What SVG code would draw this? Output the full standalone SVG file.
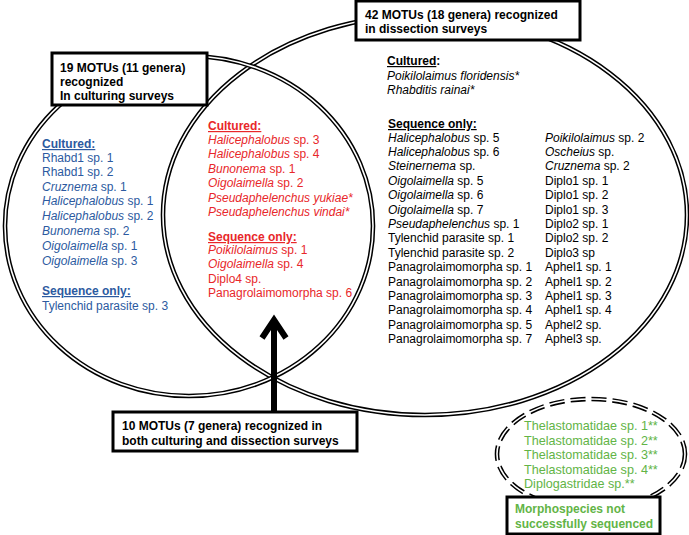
<svg xmlns="http://www.w3.org/2000/svg" width="689" height="535" viewBox="0 0 689 535">
<style>
text{font-family:"Liberation Sans",Arial,sans-serif;font-size:12px}
.b{font-weight:bold}
.i{font-style:italic}
.u{text-decoration:underline}
.bl{fill:#2c5aa0}
.rd{fill:#e8272a}
.gr{fill:#62b446}
.g13{font-size:12.6px}
.k{fill:#000}
.outer{fill:none;stroke:#000;stroke-width:4.6}
.inner{fill:none;stroke:#fff;stroke-width:1.6}
.douter{fill:none;stroke:#000;stroke-width:4.6;stroke-dasharray:15 6}
.box{fill:#fff;stroke:#000;stroke-width:3}
.arrow{fill:none;stroke:#000;stroke-width:6}
</style>
<rect width="689" height="535" fill="#fff"/>

<g id="ellipse-dissection">
<ellipse class="outer" cx="425" cy="215" rx="262" ry="200"/>
<ellipse class="inner" cx="425" cy="215" rx="262" ry="200"/>
</g>
<g id="ellipse-culturing">
<ellipse class="outer" cx="189" cy="226" rx="184" ry="170"/>
<ellipse class="inner" cx="189" cy="226" rx="184" ry="170"/>
</g>
<g id="ellipse-unsequenced">
<ellipse class="douter" cx="591" cy="454" rx="94" ry="55"/>
<ellipse class="inner" cx="591" cy="454" rx="94" ry="55"/>
</g>

<g id="connectors">
<line class="arrow" x1="274" y1="412" x2="274" y2="320"/>
<polyline class="arrow" points="262,338 274,320 286,338" stroke-linejoin="miter"/>
</g>

<g id="box-culturing">
<rect class="box" x="52" y="53" width="155" height="52"/>
<text class="b" x="60" y="72">19 MOTUs (11 genera)</text>
<text class="b" x="60" y="86">recognized</text>
<text class="b" x="60" y="100">In culturing surveys</text>
</g>

<g id="box-dissection">
<rect class="box" x="356" y="1" width="224" height="39"/>
<text class="b" x="365" y="19">42 MOTUs (18 genera) recognized</text>
<text class="b" x="365" y="33">in dissection surveys</text>
</g>

<g id="box-both">
<rect class="box" x="113" y="412" width="244" height="39"/>
<text class="b" x="122" y="430">10 MOTUs (7 genera) recognized in</text>
<text class="b" x="122" y="445">both culturing and dissection surveys</text>
</g>

<g id="box-morpho">
<rect class="box" x="507" y="497" width="153" height="37"/>
<text class="b gr" x="515" y="513">Morphospecies not</text>
<text class="b gr" x="515" y="528">successfully sequenced</text>
</g>

<g id="list-culturing">
<text class="b u bl" x="42" y="148">Cultured:</text>
<text class="bl" x="42" y="162">Rhabd1 sp. 1</text>
<text class="bl" x="42" y="176">Rhabd1 sp. 2</text>
<text class="bl" x="42" y="191"><tspan class="i">Cruznema</tspan> sp. 1</text>
<text class="bl" x="42" y="205"><tspan class="i">Halicephalobus</tspan> sp. 1</text>
<text class="bl" x="42" y="220"><tspan class="i">Halicephalobus</tspan> sp. 2</text>
<text class="bl" x="42" y="235"><tspan class="i">Bunonema</tspan> sp. 2</text>
<text class="bl" x="42" y="250"><tspan class="i">Oigolaimella</tspan> sp. 1</text>
<text class="bl" x="42" y="265"><tspan class="i">Oigolaimella</tspan> sp. 3</text>
<text class="b u bl" x="42" y="295">Sequence only:</text>
<text class="bl" x="42" y="310">Tylenchid parasite sp. 3</text>
</g>

<g id="list-both">
<text class="b u rd" x="208" y="130">Cultured:</text>
<text class="rd" x="208" y="144"><tspan class="i">Halicephalobus</tspan> sp. 3</text>
<text class="rd" x="208" y="158"><tspan class="i">Halicephalobus</tspan> sp. 4</text>
<text class="rd" x="208" y="173"><tspan class="i">Bunonema</tspan> sp. 1</text>
<text class="rd" x="208" y="187"><tspan class="i">Oigolaimella</tspan> sp. 2</text>
<text class="rd i" x="208" y="202">Pseudaphelenchus yukiae*</text>
<text class="rd i" x="208" y="216">Pseudaphelenchus vindai*</text>
<text class="b u rd" x="208" y="241">Sequence only:</text>
<text class="rd" x="208" y="254"><tspan class="i">Poikilolaimus</tspan> sp. 1</text>
<text class="rd" x="208" y="268"><tspan class="i">Oigolaimella</tspan> sp. 4</text>
<text class="rd" x="208" y="283">Diplo4 sp.</text>
<text class="rd" x="208" y="297">Panagrolaimomorpha sp. 6</text>
</g>

<g id="list-dissection">
<text class="b" x="387" y="65"><tspan class="u">Cultured</tspan>:</text>
<text class="i" x="387" y="80">Poikilolaimus floridensis*</text>
<text class="i" x="387" y="94">Rhabditis rainai*</text>
<text class="b u" x="388" y="128">Sequence only:</text>
<text x="388" y="141.5"><tspan class="i">Halicephalobus</tspan> sp. 5</text>
<text x="388" y="155.9"><tspan class="i">Halicephalobus</tspan> sp. 6</text>
<text x="388" y="170.3"><tspan class="i">Steinernema</tspan> sp.</text>
<text x="388" y="184.7"><tspan class="i">Oigolaimella</tspan> sp. 5</text>
<text x="388" y="199.1"><tspan class="i">Oigolaimella</tspan> sp. 6</text>
<text x="388" y="213.5"><tspan class="i">Oigolaimella</tspan> sp. 7</text>
<text x="388" y="227.9"><tspan class="i">Pseudaphelenchus</tspan> sp. 1</text>
<text x="388" y="242.3">Tylenchid parasite sp. 1</text>
<text x="388" y="256.7">Tylenchid parasite sp. 2</text>
<text x="388" y="271.1">Panagrolaimomorpha sp. 1</text>
<text x="388" y="285.5">Panagrolaimomorpha sp. 2</text>
<text x="388" y="299.9">Panagrolaimomorpha sp. 3</text>
<text x="388" y="314.3">Panagrolaimomorpha sp. 4</text>
<text x="388" y="328.7">Panagrolaimomorpha sp. 5</text>
<text x="388" y="343.1">Panagrolaimomorpha sp. 7</text>
<text x="545" y="141.5"><tspan class="i">Poikilolaimus</tspan> sp. 2</text>
<text x="545" y="155.9"><tspan class="i">Oscheius</tspan> sp.</text>
<text x="545" y="170.3"><tspan class="i">Cruznema</tspan> sp. 2</text>
<text x="545" y="184.7">Diplo1 sp. 1</text>
<text x="545" y="199.1">Diplo1 sp. 2</text>
<text x="545" y="213.5">Diplo1 sp. 3</text>
<text x="545" y="227.9">Diplo2 sp. 1</text>
<text x="545" y="242.3">Diplo2 sp. 2</text>
<text x="545" y="256.7">Diplo3 sp</text>
<text x="545" y="271.1">Aphel1 sp. 1</text>
<text x="545" y="285.5">Aphel1 sp. 2</text>
<text x="545" y="299.9">Aphel1 sp. 3</text>
<text x="545" y="314.3">Aphel1 sp. 4</text>
<text x="545" y="328.7">Aphel2 sp.</text>
<text x="545" y="343.1">Aphel3 sp.</text>
</g>

<g id="list-unsequenced">
<text class="gr g13" x="524" y="430">Thelastomatidae sp. 1**</text>
<text class="gr g13" x="524" y="444.6">Thelastomatidae sp. 2**</text>
<text class="gr g13" x="524" y="459.2">Thelastomatidae sp. 3**</text>
<text class="gr g13" x="524" y="473.8">Thelastomatidae sp. 4**</text>
<text class="gr g13" x="524" y="488.4">Diplogastridae sp.**</text>
</g>
</svg>
